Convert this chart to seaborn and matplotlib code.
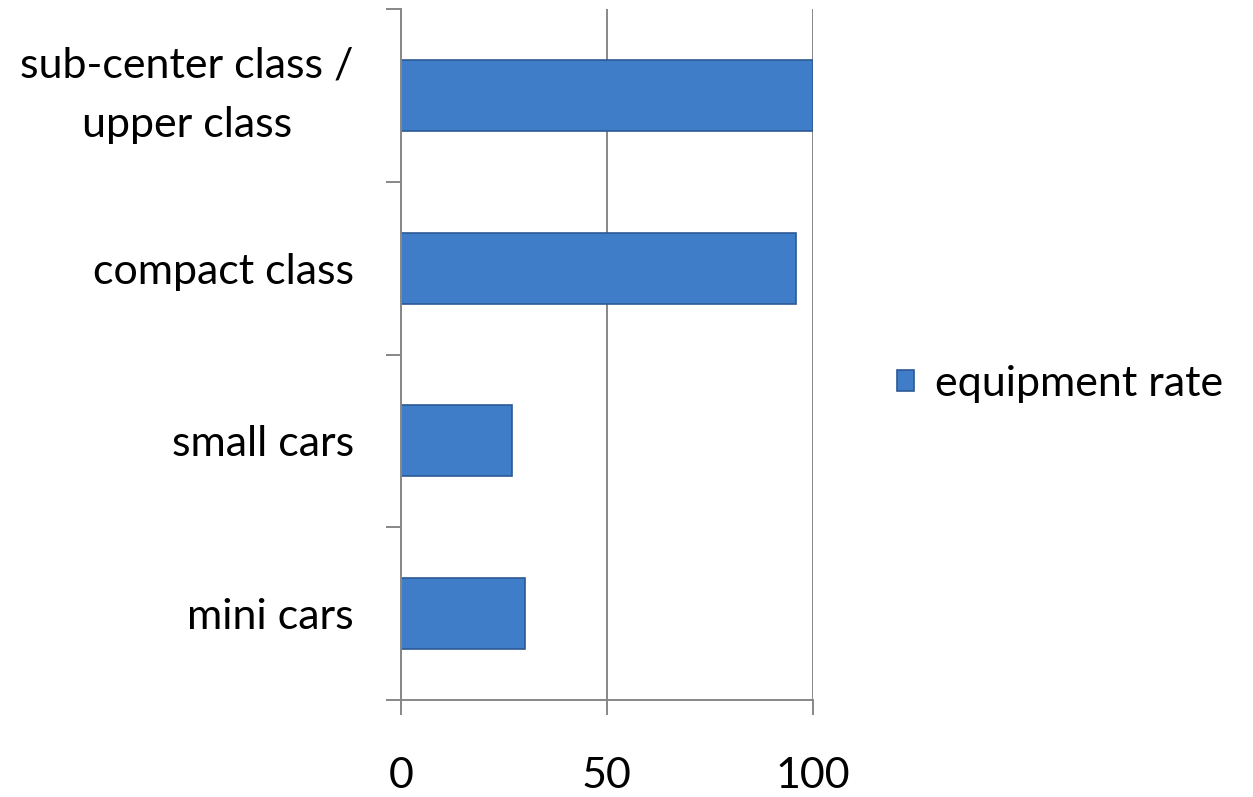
import numpy as np
import pandas as pd
import seaborn as sns
from matplotlib import pyplot as plt
from matplotlib.patches import Patch
from matplotlib.ticker import FixedLocator

categories = ['sub-center class /\nupper class', 'compact class', 'small cars', 'mini cars']
rates = [100, 96, 27, 30]
series_name = 'equipment rate'
x_ticks = [0, 50, 100]

df = pd.DataFrame({'category': categories, 'rate': rates})

sns.set_style('white')
plt.rcParams['font.family'] = ['Lato', 'DejaVu Sans']
plt.rcParams['text.color'] = 'black'

grey = '#878787'
bar_col = '#3F7DC8'
edge_col = '#2B5A94'

fig = plt.figure(figsize=(12.53, 7.97), dpi=100)
ax = fig.add_axes([0.320, 0.1217, 0.3288, 0.867])

sns.barplot(data=df, x='rate', y='category', orient='h', color=bar_col,
            width=0.41, saturation=1, edgecolor=edge_col, linewidth=1.2, ax=ax)

ax.set_xlim(0, 100)
ax.set_ylim(3.5, -0.5)
ax.set_xticks(x_ticks)
ax.set_xticklabels([str(t) for t in x_ticks])
ax.set_xlabel('')
ax.set_ylabel('')

# vertical gridlines
ax.grid(axis='x', color=grey, linewidth=1.4)
ax.set_axisbelow(True)

for s in ['top', 'right']:
    ax.spines[s].set_visible(False)
for s in ['left', 'bottom']:
    ax.spines[s].set_color(grey)
    ax.spines[s].set_linewidth(1.4)

ax.tick_params(axis='x', direction='out', length=11, width=1.4, color=grey,
               labelsize=31, pad=30, bottom=True, labelcolor='black')
# y ticks between categories, labels centred on bars
ax.yaxis.set_minor_locator(FixedLocator([-0.5, 0.5, 1.5, 2.5, 3.5]))
ax.tick_params(axis='y', which='major', length=0, labelsize=31, pad=34, left=False,
               labelcolor='black')
ax.tick_params(axis='y', which='minor', direction='out', length=11, width=1.4,
               color=grey, left=True)
for lab in ax.get_yticklabels():
    lab.set_multialignment('center')
    if '\n' in lab.get_text():
        lab.set_linespacing(1.7)
        lab.set_va('center')

handle = Patch(facecolor=bar_col, edgecolor=edge_col, linewidth=1.2)
fig.legend([handle], [series_name], loc='center left',
           bbox_to_anchor=(0.716, 0.518), frameon=False, fontsize=31,
           handlelength=0.38, handleheight=0.38, handletextpad=0.5,
           borderpad=0, borderaxespad=0)

fig.savefig('out.png', dpi=100, facecolor='white')
